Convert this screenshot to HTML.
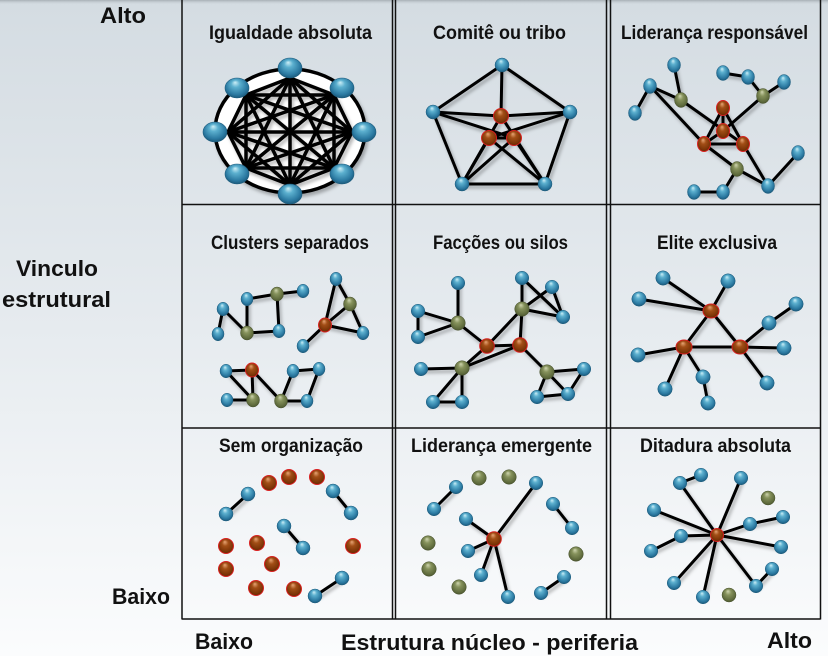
<!DOCTYPE html>
<html>
<head>
<meta charset="utf-8">
<style>
html,body{margin:0;padding:0;width:828px;height:656px;overflow:hidden;}
svg{display:block;}
text{font-family:"Liberation Sans",Arial,sans-serif;font-weight:bold;fill:#111;}
</style>
</head>
<body>
<svg width="828" height="656" viewBox="0 0 828 656" xmlns="http://www.w3.org/2000/svg">
<defs>
<linearGradient id="bg" x1="0" y1="0" x2="0" y2="1">
<stop offset="0" stop-color="#d4dce2"/>
<stop offset="0.5" stop-color="#e6ebef"/>
<stop offset="1" stop-color="#fbfcfd"/>
</linearGradient>
<linearGradient id="topstrip" x1="0" y1="0" x2="0" y2="1">
<stop offset="0" stop-color="#a7afb5"/>
<stop offset="1" stop-color="#d4dce2" stop-opacity="0"/>
</linearGradient>
<radialGradient id="gb" cx="0.5" cy="0.45" r="0.6" fx="0.42" fy="0.22">
<stop offset="0" stop-color="#cdeff7"/>
<stop offset="0.3" stop-color="#5cb0cf"/>
<stop offset="0.75" stop-color="#2a78a0"/>
<stop offset="1" stop-color="#18506e"/>
</radialGradient>
<radialGradient id="gr" cx="0.5" cy="0.45" r="0.6" fx="0.42" fy="0.22">
<stop offset="0" stop-color="#e8a676"/>
<stop offset="0.35" stop-color="#a24e16"/>
<stop offset="0.8" stop-color="#7a3306"/>
<stop offset="1" stop-color="#5a2200"/>
</radialGradient>
<radialGradient id="go" cx="0.5" cy="0.45" r="0.6" fx="0.42" fy="0.22">
<stop offset="0" stop-color="#d0d6b0"/>
<stop offset="0.35" stop-color="#86925c"/>
<stop offset="0.8" stop-color="#5e6a3c"/>
<stop offset="1" stop-color="#454f2b"/>
</radialGradient>
<filter id="sh" x="-20%" y="-20%" width="140%" height="140%">
<feDropShadow dx="2" dy="3" stdDeviation="1.6" flood-color="#000" flood-opacity="0.28"/>
</filter>
</defs>

<rect x="0" y="0" width="828" height="656" fill="url(#bg)"/>
<rect x="0" y="0" width="828" height="5" fill="url(#topstrip)"/>

<!-- grid -->
<g stroke="#111" stroke-width="1.5" fill="none">
<line x1="182" y1="0" x2="182" y2="619.5"/>
<line x1="392.5" y1="0" x2="392.5" y2="619.5"/>
<line x1="395.5" y1="0" x2="395.5" y2="619.5"/>
<line x1="606.5" y1="0" x2="606.5" y2="619.5"/>
<line x1="610.5" y1="0" x2="610.5" y2="619.5"/>
<line x1="820.5" y1="0" x2="820.5" y2="619.5"/>
<line x1="182" y1="204.5" x2="820.5" y2="204.5"/>
<line x1="182" y1="428" x2="820.5" y2="428"/>
<line x1="182" y1="619" x2="820.5" y2="619"/>
</g>

<!-- axis labels -->
<text x="100" y="23" font-size="22" textLength="46" lengthAdjust="spacingAndGlyphs">Alto</text>
<text x="16" y="276" font-size="22" textLength="82" lengthAdjust="spacingAndGlyphs">Vinculo</text>
<text x="2" y="307" font-size="22" textLength="109" lengthAdjust="spacingAndGlyphs">estrutural</text>
<text x="112" y="604" font-size="22" textLength="58" lengthAdjust="spacingAndGlyphs">Baixo</text>
<text x="195" y="649" font-size="22" textLength="58" lengthAdjust="spacingAndGlyphs">Baixo</text>
<text x="341" y="650" font-size="22" textLength="297" lengthAdjust="spacingAndGlyphs">Estrutura núcleo - periferia</text>
<text x="767" y="648" font-size="22" textLength="45" lengthAdjust="spacingAndGlyphs">Alto</text>

<!-- titles -->
<g font-size="19">
<text x="209" y="39" textLength="163" lengthAdjust="spacingAndGlyphs">Igualdade absoluta</text>
<text x="433" y="39" textLength="133" lengthAdjust="spacingAndGlyphs">Comitê ou tribo</text>
<text x="621" y="39" textLength="187" lengthAdjust="spacingAndGlyphs">Liderança responsável</text>
<text x="211" y="249" textLength="158" lengthAdjust="spacingAndGlyphs">Clusters separados</text>
<text x="433" y="249" textLength="135" lengthAdjust="spacingAndGlyphs">Facções ou silos</text>
<text x="657" y="249" textLength="120" lengthAdjust="spacingAndGlyphs">Elite exclusiva</text>
<text x="219" y="452" textLength="144" lengthAdjust="spacingAndGlyphs">Sem organização</text>
<text x="411" y="452" textLength="181" lengthAdjust="spacingAndGlyphs">Liderança emergente</text>
<text x="640" y="452" textLength="151" lengthAdjust="spacingAndGlyphs">Ditadura absoluta</text>
</g>

<!-- CELL 1: Igualdade absoluta -->
<ellipse cx="290" cy="131" rx="75" ry="62" fill="#fff" stroke="#000" stroke-width="3.5" filter="url(#sh)"/>
<g stroke="#000" stroke-width="3.5" stroke-linecap="round" filter="url(#sh)">
<line x1="290" y1="78" x2="290" y2="185"/>
<line x1="290" y1="78" x2="228" y2="132"/>
<line x1="290" y1="78" x2="352" y2="132"/>
<line x1="290" y1="78" x2="246" y2="95"/>
<line x1="290" y1="78" x2="334" y2="95"/>
<line x1="290" y1="78" x2="246" y2="168"/>
<line x1="290" y1="78" x2="334" y2="168"/>
<line x1="290" y1="185" x2="228" y2="132"/>
<line x1="290" y1="185" x2="352" y2="132"/>
<line x1="290" y1="185" x2="246" y2="95"/>
<line x1="290" y1="185" x2="334" y2="95"/>
<line x1="290" y1="185" x2="246" y2="168"/>
<line x1="290" y1="185" x2="334" y2="168"/>
<line x1="228" y1="132" x2="352" y2="132"/>
<line x1="228" y1="132" x2="246" y2="95"/>
<line x1="228" y1="132" x2="334" y2="95"/>
<line x1="228" y1="132" x2="246" y2="168"/>
<line x1="228" y1="132" x2="334" y2="168"/>
<line x1="352" y1="132" x2="246" y2="95"/>
<line x1="352" y1="132" x2="334" y2="95"/>
<line x1="352" y1="132" x2="246" y2="168"/>
<line x1="352" y1="132" x2="334" y2="168"/>
<line x1="246" y1="95" x2="334" y2="95"/>
<line x1="246" y1="95" x2="246" y2="168"/>
<line x1="246" y1="95" x2="334" y2="168"/>
<line x1="334" y1="95" x2="246" y2="168"/>
<line x1="334" y1="95" x2="334" y2="168"/>
<line x1="246" y1="168" x2="334" y2="168"/>
</g>
<g fill="url(#gb)" stroke="#1d5d7e" stroke-width="0.6">
<ellipse cx="290" cy="68" rx="12" ry="10"/>
<ellipse cx="290" cy="194" rx="12" ry="10"/>
<ellipse cx="215" cy="132" rx="12" ry="10"/>
<ellipse cx="364" cy="132" rx="12" ry="10"/>
<ellipse cx="237" cy="88" rx="12" ry="10"/>
<ellipse cx="342" cy="88" rx="12" ry="10"/>
<ellipse cx="237" cy="174" rx="12" ry="10"/>
<ellipse cx="342" cy="174" rx="12" ry="10"/>
</g>

<!-- CELL 2: Comitê ou tribo -->
<g stroke="#000" stroke-width="3" stroke-linecap="round" filter="url(#sh)">
<line x1="502" y1="65" x2="433" y2="112"/>
<line x1="502" y1="65" x2="570" y2="112"/>
<line x1="502" y1="65" x2="501" y2="116"/>
<line x1="433" y1="112" x2="501" y2="116"/>
<line x1="570" y1="112" x2="501" y2="116"/>
<line x1="433" y1="112" x2="514" y2="138"/>
<line x1="570" y1="112" x2="489" y2="138"/>
<line x1="433" y1="112" x2="462" y2="184"/>
<line x1="570" y1="112" x2="545" y2="184"/>
<line x1="462" y1="184" x2="545" y2="184"/>
<line x1="462" y1="184" x2="489" y2="138"/>
<line x1="545" y1="184" x2="514" y2="138"/>
<line x1="462" y1="184" x2="514" y2="138"/>
<line x1="545" y1="184" x2="489" y2="138"/>
<line x1="462" y1="184" x2="501" y2="116"/>
<line x1="545" y1="184" x2="501" y2="116"/>
<line x1="489" y1="138" x2="514" y2="138"/>
</g>
<g fill="url(#gb)" stroke="#1d5d7e" stroke-width="0.5">
<circle cx="502" cy="65" r="7"/>
<circle cx="433" cy="112" r="7"/>
<circle cx="570" cy="112" r="7"/>
<circle cx="462" cy="184" r="7"/>
<circle cx="545" cy="184" r="7"/>
</g>
<g fill="url(#gr)" stroke="#d82020" stroke-width="1">
<circle cx="501" cy="116" r="7.5"/>
<circle cx="489" cy="138" r="7.5"/>
<circle cx="514" cy="138" r="7.5"/>
</g>

<!-- CELL 3: Liderança responsável -->
<g stroke="#000" stroke-width="3" stroke-linecap="round" filter="url(#sh)">
<line x1="674" y1="65" x2="681" y2="100"/>
<line x1="650" y1="86" x2="635" y2="113"/>
<line x1="650" y1="86" x2="681" y2="100"/>
<line x1="650" y1="86" x2="704" y2="144"/>
<line x1="681" y1="100" x2="743" y2="144"/>
<line x1="704" y1="144" x2="737" y2="169"/>
<line x1="737" y1="169" x2="768" y2="186"/>
<line x1="743" y1="144" x2="768" y2="186"/>
<line x1="798" y1="153" x2="768" y2="186"/>
<line x1="694" y1="192" x2="723" y2="192"/>
<line x1="723" y1="192" x2="737" y2="169"/>
<line x1="723" y1="73" x2="748" y2="77"/>
<line x1="748" y1="77" x2="763" y2="96"/>
<line x1="763" y1="96" x2="784" y2="82"/>
<line x1="763" y1="96" x2="723" y2="131"/>
<line x1="723" y1="108" x2="723" y2="131"/>
<line x1="723" y1="108" x2="704" y2="144"/>
<line x1="723" y1="108" x2="743" y2="144"/>
<line x1="704" y1="144" x2="743" y2="144"/>
<line x1="723" y1="131" x2="704" y2="144"/>
</g>
<g fill="url(#gb)" stroke="#1d5d7e" stroke-width="0.5">
<ellipse cx="674" cy="65" rx="6.5" ry="7.5"/>
<ellipse cx="650" cy="86" rx="6.5" ry="7.5"/>
<ellipse cx="635" cy="113" rx="6.5" ry="7.5"/>
<ellipse cx="723" cy="73" rx="6.5" ry="7.5"/>
<ellipse cx="748" cy="77" rx="6.5" ry="7.5"/>
<ellipse cx="784" cy="82" rx="6.5" ry="7.5"/>
<ellipse cx="798" cy="153" rx="6.5" ry="7.5"/>
<ellipse cx="768" cy="186" rx="6.5" ry="7.5"/>
<ellipse cx="694" cy="192" rx="6.5" ry="7.5"/>
<ellipse cx="723" cy="192" rx="6.5" ry="7.5"/>
</g>
<g fill="url(#go)" stroke="#4a5430" stroke-width="0.5">
<ellipse cx="681" cy="100" rx="6.5" ry="7.5"/>
<ellipse cx="763" cy="96" rx="6.5" ry="7.5"/>
<ellipse cx="737" cy="169" rx="6.5" ry="7.5"/>
</g>
<g fill="url(#gr)" stroke="#d82020" stroke-width="1">
<ellipse cx="723" cy="108" rx="6.5" ry="7.5"/>
<ellipse cx="723" cy="131" rx="6.5" ry="7.5"/>
<ellipse cx="704" cy="144" rx="6.5" ry="7.5"/>
<ellipse cx="743" cy="144" rx="6.5" ry="7.5"/>
</g>

<!-- CELL 4: Clusters separados -->
<g stroke="#000" stroke-width="3" stroke-linecap="round" filter="url(#sh)">
<line x1="223" y1="309" x2="218" y2="334"/>
<line x1="223" y1="309" x2="247" y2="333"/>
<line x1="247" y1="299" x2="247" y2="333"/>
<line x1="247" y1="299" x2="277" y2="294"/>
<line x1="277" y1="294" x2="303" y2="291"/>
<line x1="277" y1="294" x2="279" y2="331"/>
<line x1="247" y1="333" x2="279" y2="331"/>
<line x1="336" y1="279" x2="325" y2="325"/>
<line x1="336" y1="279" x2="350" y2="304"/>
<line x1="350" y1="304" x2="325" y2="325"/>
<line x1="350" y1="304" x2="363" y2="333"/>
<line x1="325" y1="325" x2="363" y2="333"/>
<line x1="325" y1="325" x2="303" y2="346"/>
<line x1="226" y1="371" x2="252" y2="370"/>
<line x1="226" y1="371" x2="253" y2="400"/>
<line x1="252" y1="370" x2="253" y2="400"/>
<line x1="227" y1="400" x2="253" y2="400"/>
<line x1="252" y1="370" x2="281" y2="401"/>
<line x1="281" y1="401" x2="293" y2="371"/>
<line x1="293" y1="371" x2="319" y2="369"/>
<line x1="319" y1="369" x2="307" y2="401"/>
<line x1="281" y1="401" x2="307" y2="401"/>
</g>
<g fill="url(#gb)" stroke="#1d5d7e" stroke-width="0.5">
<ellipse cx="223" cy="309" rx="6" ry="6.8"/>
<ellipse cx="218" cy="334" rx="6" ry="6.8"/>
<ellipse cx="247" cy="299" rx="6" ry="6.8"/>
<ellipse cx="303" cy="291" rx="6" ry="6.8"/>
<ellipse cx="279" cy="331" rx="6" ry="6.8"/>
<ellipse cx="336" cy="279" rx="6" ry="6.8"/>
<ellipse cx="363" cy="333" rx="6" ry="6.8"/>
<ellipse cx="303" cy="346" rx="6" ry="6.8"/>
<ellipse cx="226" cy="371" rx="6" ry="6.8"/>
<ellipse cx="227" cy="400" rx="6" ry="6.8"/>
<ellipse cx="293" cy="371" rx="6" ry="6.8"/>
<ellipse cx="319" cy="369" rx="6" ry="6.8"/>
<ellipse cx="307" cy="401" rx="6" ry="6.8"/>
</g>
<g fill="url(#go)" stroke="#4a5430" stroke-width="0.5">
<ellipse cx="277" cy="294" rx="6.5" ry="7"/>
<ellipse cx="247" cy="333" rx="6.5" ry="7"/>
<ellipse cx="350" cy="304" rx="6.5" ry="7"/>
<ellipse cx="253" cy="400" rx="6.5" ry="7"/>
<ellipse cx="281" cy="401" rx="6.5" ry="7"/>
</g>
<g fill="url(#gr)" stroke="#d82020" stroke-width="1">
<ellipse cx="325" cy="325" rx="6.5" ry="7"/>
<ellipse cx="252" cy="370" rx="6.5" ry="7"/>
</g>

<!-- CELL 5: Facções ou silos -->
<g stroke="#000" stroke-width="3" stroke-linecap="round" filter="url(#sh)">
<line x1="458" y1="283" x2="458" y2="323"/>
<line x1="418" y1="311" x2="418" y2="337"/>
<line x1="418" y1="311" x2="458" y2="323"/>
<line x1="418" y1="337" x2="458" y2="323"/>
<line x1="458" y1="323" x2="487" y2="346"/>
<line x1="487" y1="346" x2="520" y2="345"/>
<line x1="487" y1="346" x2="522" y2="309"/>
<line x1="522" y1="309" x2="520" y2="345"/>
<line x1="522" y1="278" x2="522" y2="309"/>
<line x1="522" y1="278" x2="563" y2="317"/>
<line x1="522" y1="309" x2="552" y2="287"/>
<line x1="522" y1="309" x2="563" y2="317"/>
<line x1="552" y1="287" x2="563" y2="317"/>
<line x1="487" y1="346" x2="462" y2="368"/>
<line x1="520" y1="345" x2="462" y2="368"/>
<line x1="421" y1="369" x2="462" y2="368"/>
<line x1="462" y1="368" x2="433" y2="402"/>
<line x1="462" y1="368" x2="462" y2="402"/>
<line x1="433" y1="402" x2="462" y2="402"/>
<line x1="520" y1="345" x2="547" y2="372"/>
<line x1="547" y1="372" x2="584" y2="369"/>
<line x1="547" y1="372" x2="568" y2="394"/>
<line x1="547" y1="372" x2="537" y2="397"/>
<line x1="584" y1="369" x2="568" y2="394"/>
<line x1="537" y1="397" x2="568" y2="394"/>
</g>
<g fill="url(#gb)" stroke="#1d5d7e" stroke-width="0.5">
<circle cx="458" cy="283" r="6.8"/>
<circle cx="418" cy="311" r="6.8"/>
<circle cx="418" cy="337" r="6.8"/>
<circle cx="522" cy="278" r="6.8"/>
<circle cx="552" cy="287" r="6.8"/>
<circle cx="563" cy="317" r="6.8"/>
<circle cx="421" cy="369" r="6.8"/>
<circle cx="433" cy="402" r="6.8"/>
<circle cx="462" cy="402" r="6.8"/>
<circle cx="584" cy="369" r="6.8"/>
<circle cx="568" cy="394" r="6.8"/>
<circle cx="537" cy="397" r="6.8"/>
</g>
<g fill="url(#go)" stroke="#4a5430" stroke-width="0.5">
<circle cx="458" cy="323" r="7.3"/>
<circle cx="522" cy="309" r="7.3"/>
<circle cx="462" cy="368" r="7.3"/>
<circle cx="547" cy="372" r="7.3"/>
</g>
<g fill="url(#gr)" stroke="#d82020" stroke-width="1">
<circle cx="487" cy="346" r="7.3"/>
<circle cx="520" cy="345" r="7.3"/>
</g>

<!-- CELL 6: Elite exclusiva -->
<g stroke="#000" stroke-width="3" stroke-linecap="round" filter="url(#sh)">
<line x1="663" y1="278" x2="711" y2="311"/>
<line x1="728" y1="281" x2="711" y2="311"/>
<line x1="639" y1="299" x2="711" y2="311"/>
<line x1="711" y1="311" x2="684" y2="347"/>
<line x1="711" y1="311" x2="740" y2="347"/>
<line x1="684" y1="347" x2="740" y2="347"/>
<line x1="684" y1="347" x2="638" y2="355"/>
<line x1="684" y1="347" x2="665" y2="389"/>
<line x1="684" y1="347" x2="703" y2="377"/>
<line x1="703" y1="377" x2="708" y2="403"/>
<line x1="740" y1="347" x2="769" y2="323"/>
<line x1="769" y1="323" x2="796" y2="304"/>
<line x1="740" y1="347" x2="784" y2="348"/>
<line x1="740" y1="347" x2="767" y2="383"/>
</g>
<g fill="url(#gb)" stroke="#1d5d7e" stroke-width="0.5">
<circle cx="663" cy="278" r="7.2"/>
<circle cx="728" cy="281" r="7.2"/>
<circle cx="639" cy="299" r="7.2"/>
<circle cx="796" cy="304" r="7.2"/>
<circle cx="769" cy="323" r="7.2"/>
<circle cx="638" cy="355" r="7.2"/>
<circle cx="784" cy="348" r="7.2"/>
<circle cx="703" cy="377" r="7.2"/>
<circle cx="665" cy="389" r="7.2"/>
<circle cx="708" cy="403" r="7.2"/>
<circle cx="767" cy="383" r="7.2"/>
</g>
<g fill="url(#gr)" stroke="#d82020" stroke-width="1">
<ellipse cx="711" cy="311" rx="8" ry="7"/>
<ellipse cx="684" cy="347" rx="8" ry="7"/>
<ellipse cx="740" cy="347" rx="8" ry="7"/>
</g>

<!-- CELL 7: Sem organização -->
<g stroke="#000" stroke-width="3" stroke-linecap="round" filter="url(#sh)">
<line x1="248" y1="494" x2="226" y2="514"/>
<line x1="333" y1="491" x2="351" y2="513"/>
<line x1="284" y1="526" x2="303" y2="548"/>
<line x1="342" y1="578" x2="315" y2="596"/>
</g>
<g fill="url(#gr)" stroke="#d82020" stroke-width="1">
<circle cx="269" cy="483" r="7.5"/>
<circle cx="289" cy="477" r="7.5"/>
<circle cx="317" cy="477" r="7.5"/>
<circle cx="226" cy="546" r="7.5"/>
<circle cx="257" cy="543" r="7.5"/>
<circle cx="353" cy="546" r="7.5"/>
<circle cx="226" cy="569" r="7.5"/>
<circle cx="272" cy="564" r="7.5"/>
<circle cx="256" cy="588" r="7.5"/>
<circle cx="294" cy="589" r="7.5"/>
</g>
<g fill="url(#gb)" stroke="#1d5d7e" stroke-width="0.5">
<circle cx="248" cy="494" r="7"/>
<circle cx="226" cy="514" r="7"/>
<circle cx="333" cy="491" r="7"/>
<circle cx="351" cy="513" r="7"/>
<circle cx="284" cy="526" r="7"/>
<circle cx="303" cy="548" r="7"/>
<circle cx="342" cy="578" r="7"/>
<circle cx="315" cy="596" r="7"/>
</g>

<!-- CELL 8: Liderança emergente -->
<g stroke="#000" stroke-width="3" stroke-linecap="round" filter="url(#sh)">
<line x1="456" y1="487" x2="434" y2="509"/>
<line x1="494" y1="539" x2="536" y2="483"/>
<line x1="494" y1="539" x2="466" y2="519"/>
<line x1="494" y1="539" x2="468" y2="551"/>
<line x1="494" y1="539" x2="481" y2="575"/>
<line x1="494" y1="539" x2="508" y2="597"/>
<line x1="553" y1="504" x2="572" y2="528"/>
<line x1="564" y1="577" x2="541" y2="593"/>
</g>
<g fill="url(#go)" stroke="#4a5430" stroke-width="0.5">
<circle cx="479" cy="478" r="7.3"/>
<circle cx="509" cy="477" r="7.3"/>
<circle cx="428" cy="543" r="7.3"/>
<circle cx="429" cy="569" r="7.3"/>
<circle cx="459" cy="587" r="7.3"/>
<circle cx="576" cy="554" r="7.3"/>
</g>
<g fill="url(#gb)" stroke="#1d5d7e" stroke-width="0.5">
<circle cx="456" cy="487" r="6.8"/>
<circle cx="434" cy="509" r="6.8"/>
<circle cx="536" cy="483" r="6.8"/>
<circle cx="466" cy="519" r="6.8"/>
<circle cx="468" cy="551" r="6.8"/>
<circle cx="481" cy="575" r="6.8"/>
<circle cx="508" cy="597" r="6.8"/>
<circle cx="553" cy="504" r="6.8"/>
<circle cx="572" cy="528" r="6.8"/>
<circle cx="564" cy="577" r="6.8"/>
<circle cx="541" cy="593" r="6.8"/>
</g>
<circle cx="494" cy="539" r="7.3" fill="url(#gr)" stroke="#d82020" stroke-width="1"/>

<!-- CELL 9: Ditadura absoluta -->
<g stroke="#000" stroke-width="3" stroke-linecap="round" filter="url(#sh)">
<line x1="701" y1="475" x2="680" y2="483"/>
<line x1="680" y1="483" x2="717" y2="535"/>
<line x1="741" y1="478" x2="717" y2="535"/>
<line x1="654" y1="510" x2="717" y2="535"/>
<line x1="681" y1="536" x2="717" y2="535"/>
<line x1="651" y1="551" x2="681" y2="536"/>
<line x1="750" y1="524" x2="717" y2="535"/>
<line x1="783" y1="517" x2="750" y2="524"/>
<line x1="781" y1="547" x2="717" y2="535"/>
<line x1="674" y1="583" x2="717" y2="535"/>
<line x1="703" y1="597" x2="717" y2="535"/>
<line x1="756" y1="586" x2="717" y2="535"/>
<line x1="772" y1="569" x2="756" y2="586"/>
</g>
<g fill="url(#gb)" stroke="#1d5d7e" stroke-width="0.5">
<circle cx="701" cy="475" r="6.8"/>
<circle cx="680" cy="483" r="6.8"/>
<circle cx="741" cy="478" r="6.8"/>
<circle cx="654" cy="510" r="6.8"/>
<circle cx="681" cy="536" r="6.8"/>
<circle cx="651" cy="551" r="6.8"/>
<circle cx="750" cy="524" r="6.8"/>
<circle cx="783" cy="517" r="6.8"/>
<circle cx="781" cy="547" r="6.8"/>
<circle cx="674" cy="583" r="6.8"/>
<circle cx="703" cy="597" r="6.8"/>
<circle cx="756" cy="586" r="6.8"/>
<circle cx="772" cy="569" r="6.8"/>
</g>
<g fill="url(#go)" stroke="#4a5430" stroke-width="0.5">
<circle cx="768" cy="498" r="7"/>
<circle cx="729" cy="595" r="7"/>
</g>
<circle cx="717" cy="535" r="6.5" fill="url(#gr)" stroke="#d82020" stroke-width="1"/>
</svg>
</body>
</html>
